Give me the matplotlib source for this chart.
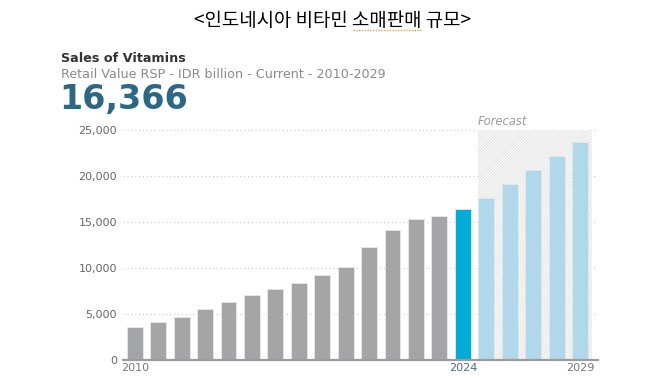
import numpy as np
import matplotlib
matplotlib.use("Agg")
import matplotlib.pyplot as plt
from matplotlib.patches import Rectangle
from matplotlib.lines import Line2D

# data (IDR billion)
years = list(range(2010, 2030))
values = [3550, 4100, 4700, 5500, 6350, 7100, 7750, 8400, 9250, 10100,
          12250, 14150, 15350, 15700, 16366,
          17600, 19100, 20600, 22200, 23700]
current_year = 2024
yticks = [0, 5000, 10000, 15000, 20000, 25000]
xtick_years = [2010, 2024, 2029]

grey = "#a4a5a7"
cur_blue = "#00acd7"
fc_blue = "#b0d7ea"

plt.rcParams["font.family"] = ["DejaVu Sans"]
plt.rcParams["hatch.linewidth"] = 0.5

fig = plt.figure(figsize=(6.66, 3.81), dpi=100)
ax = fig.add_axes([0.184, 0.055, 0.714, 0.604])

x = np.arange(len(years))
cols = []
for y in years:
    if y < current_year:
        cols.append(grey)
    elif y == current_year:
        cols.append(cur_blue)
    else:
        cols.append(fc_blue)

# forecast hatched area
fc_start = years.index(current_year) + 0.65
ax.add_patch(Rectangle((fc_start, 0), len(years) - 0.5 - fc_start, 25000,
                       facecolor="white", edgecolor="#d6d6d6", hatch="/" * 12,
                       linewidth=0, zorder=1))
ax.text(fc_start, 25250, "Forecast", style="italic", color="#9a9a9a",
        fontsize=8.3, ha="left", va="bottom")

ax.bar(x, values, width=0.68, color=cols, edgecolor="#e8e8e8", linewidth=0.6, zorder=2)

ax.set_xlim(-0.52, 19.77)
ax.set_ylim(0, 25000)
ax.set_yticks(yticks)
ax.set_yticklabels([f"{v:,}" for v in yticks])
ax.yaxis.grid(True, linestyle=(0, (1, 2.5)), color="#c8c8c8", linewidth=0.8, zorder=0)
ax.set_axisbelow(True)
ax.tick_params(axis="y", length=0, pad=4, labelsize=8, labelcolor="#666666")

ax.set_xticks([years.index(y) for y in xtick_years])
ax.set_xticklabels([str(y) for y in xtick_years])
ax.tick_params(axis="x", length=0, pad=2, labelsize=8, labelcolor="#777777")
ax.get_xticklabels()[1].set_color("#4d6d80")

for s in ["left", "right", "top"]:
    ax.spines[s].set_visible(False)
ax.spines["bottom"].set_color("#9c9c9c")
ax.spines["bottom"].set_linewidth(1.6)
ax.spines["bottom"].set_zorder(3)

# headings
kr_font = ["Noto Sans CJK KR", "DejaVu Sans"]
kr_size = 13.6
title = "<인도네시아 비타민 소매판매 규모>"
t = fig.text(0.5, 1 - 21 / 381, title, ha="center", va="center",
             fontsize=kr_size, color="black", family=kr_font)
fig.text(61 / 666, 1 - 58 / 381, "Sales of Vitamins", fontsize=9.2, fontweight="bold",
         color="#333333", va="center", ha="left")
fig.text(61 / 666, 1 - 74 / 381, "Retail Value RSP - IDR billion - Current - 2010-2029",
         fontsize=9.2, color="#8a8a8a", va="center", ha="left")
fig.text(59 / 666, 1 - 100 / 381, f"{values[years.index(current_year)]:,}",
         fontsize=24, fontweight="bold", color="#2e6784", va="center", ha="left")

# spell-check squiggle under one word of the Korean title
fig.canvas.draw()
r = fig.canvas.get_renderer()
bb = t.get_window_extent(r)
pre = fig.text(0, 0, "<인도네시아 비타민 ", fontsize=kr_size, family=kr_font)
word = fig.text(0, 0, "소매판매", fontsize=kr_size, family=kr_font)
x0 = bb.x0 + pre.get_window_extent(r).width
x1 = x0 + word.get_window_extent(r).width
pre.remove()
word.remove()
fig.add_artist(Line2D([x0 / 666, x1 / 666], [bb.y0 / 381 + 0.004] * 2,
                      color="#e8a040", linewidth=1.0, linestyle=(0, (1, 1)),
                      transform=fig.transFigure))

fig.savefig("out.png", dpi=100)
